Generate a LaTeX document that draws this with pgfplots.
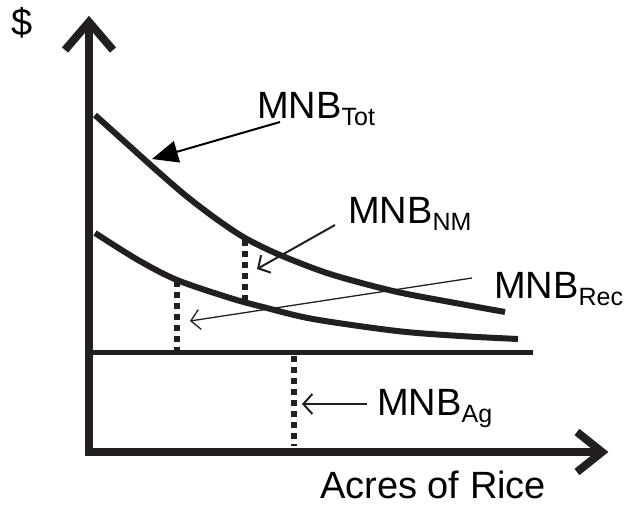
\documentclass[border=0pt]{standalone}
\usepackage{fontspec}
\setmainfont{Liberation Sans}
\usepackage{pgfplots}
\pgfplotsset{compat=1.18}
\usetikzlibrary{arrows.meta}
\definecolor{ink}{RGB}{35,31,30}

\newcommand{\lbl}[1]{\fontsize{38}{42}\selectfont #1}
\newcommand{\sub}[1]{\raisebox{-7pt}{\fontsize{25}{28}\selectfont #1}}

\begin{document}
\begin{tikzpicture}
\begin{axis}[
    scale only axis,
    width=624pt, height=506pt,
    xmin=0, xmax=624, ymin=0, ymax=506,
    y dir=reverse,
    hide axis,
    clip=false,
]
% frame for the bounding box
\addplot[draw=none] coordinates {(0,0) (624,506)};

% axes with open chevron heads
\addplot[ink, line width=8pt, line cap=butt] coordinates {(89,22) (89,456)};
\addplot[ink, line width=8pt, line cap=butt] coordinates {(85,452) (602,452)};
\addplot[ink, line width=8pt, line cap=butt, line join=miter] coordinates {(65,50) (89,22) (113,50)};
\addplot[ink, line width=8pt, line cap=butt, line join=miter] coordinates {(577,432) (602,452) (577,472)};

% MNB_Ag (flat)
\addplot[ink, line width=5pt] coordinates {(93,352) (533,352)};

% MNB_Tot
\addplot[ink, line width=6pt, smooth] coordinates {
    (95,115) (125,142) (155,169) (185,195) (215,218) (245,238)
    (280,255) (330,274) (393,291) (450,302) (505,312)
};
% MNB_Rec
\addplot[ink, line width=6pt, smooth] coordinates {
    (95,233) (138,260) (177,280) (230,298) (263,307)
    (313,319) (397,331) (460,336) (518,339)
};

% dotted drop lines
\addplot[ink, line width=6pt, dash pattern=on 6pt off 5pt] coordinates {(177,281) (177,350)};
\addplot[ink, line width=6pt, dash pattern=on 6pt off 5pt] coordinates {(245,240) (245,302)};
\addplot[ink, line width=6pt, dash pattern=on 6pt off 5pt] coordinates {(294,356) (294,446)};

% pointers
\addplot[black, line width=2pt, -{Triangle[length=26pt,width=22pt]}] coordinates {(280,122) (152,159)};
\addplot[ink, line width=2pt, -{Straight Barb[length=9pt,width=20pt]}] coordinates {(335,225) (257,269)};
\addplot[ink, line width=1.3pt, -{Straight Barb[length=9pt,width=20pt]}] coordinates {(472,278) (190,321)};
\addplot[ink, line width=2pt, -{Straight Barb[length=9pt,width=20pt]}] coordinates {(367,404) (302,404)};

% labels
\node[anchor=base west, inner sep=0] at (axis cs:11,35) {\lbl{\$}};
\node[anchor=base west, inner sep=0] at (axis cs:257,118) {\lbl{MNB}\sub{Tot}};
\node[anchor=base west, inner sep=0] at (axis cs:348,223) {\lbl{MNB}\sub{NM}};
\node[anchor=base west, inner sep=0] at (axis cs:494,298) {\lbl{MNB}\sub{Rec}};
\node[anchor=base west, inner sep=0] at (axis cs:377,415) {\lbl{MNB}\sub{Ag}};
\node[anchor=base west, inner sep=0] at (axis cs:320,498) {\lbl{Acres of Rice}};
\end{axis}
\end{tikzpicture}
\end{document}
